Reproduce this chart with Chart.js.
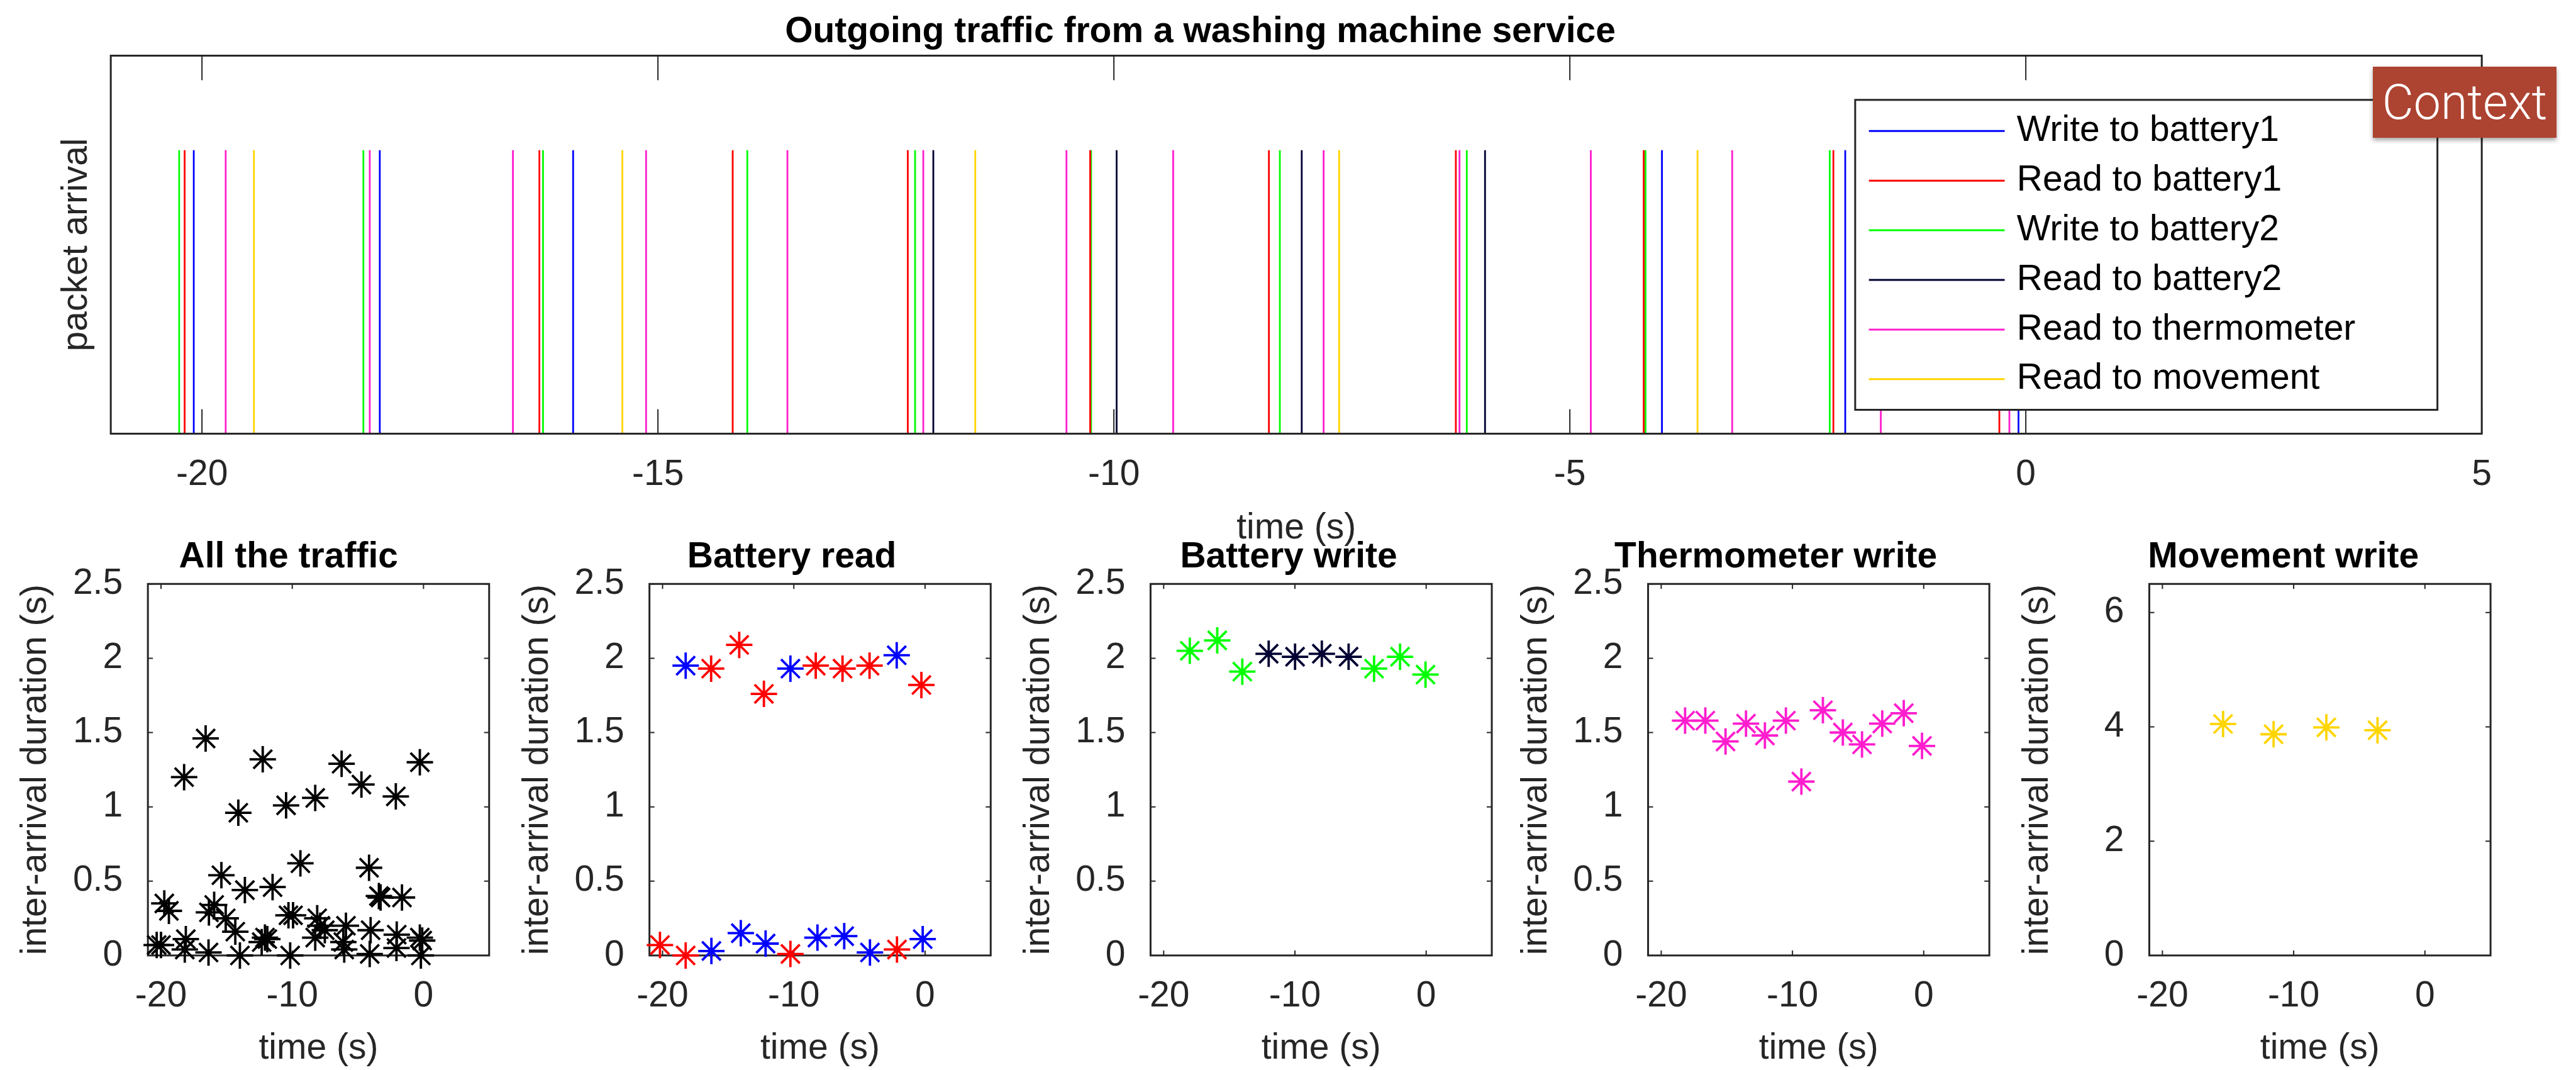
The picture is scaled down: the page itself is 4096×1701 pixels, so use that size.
<!DOCTYPE html>
<html>
<head>
<meta charset="utf-8">
<script src="https://cdn.jsdelivr.net/npm/chart.js@4.4.1/dist/chart.umd.min.js"></script>
<style>
  html, body { margin: 0; padding: 0; background: #fff; }
  body { position: relative; width: 4096px; height: 1701px; overflow: hidden; }
  .wrap { position: absolute; }
  #context {
    position: absolute; left: 3773px; top: 106px; width: 292px; height: 113px;
    background: #ad4331; color: #fff; box-shadow: 0 4px 7px rgba(0,0,0,0.35);
    font-family: Roboto, "Open Sans", "Liberation Sans", sans-serif; font-weight: 300; font-size: 77px;
    display: flex; align-items: center; justify-content: center;
  }
</style>
</head>
<body>
<div class="wrap" id="w0"><canvas id="c0"></canvas></div>
<div class="wrap" id="w1"><canvas id="c1"></canvas></div>
<div class="wrap" id="w2"><canvas id="c2"></canvas></div>
<div class="wrap" id="w3"><canvas id="c3"></canvas></div>
<div class="wrap" id="w4"><canvas id="c4"></canvas></div>
<div class="wrap" id="w5"><canvas id="c5"></canvas></div>
<div id="context">Context</div>
<script>
var S = 0.915;
var FONT = '"Liberation Sans", Arial, Helvetica, sans-serif';
var INK = '#262626';

// ticks
var topTicks = [-20, -15, -10, -5, 0, 5];
var panelTicks = [-20, -10, 0];
var gapTicks = [0, 0.5, 1, 1.5, 2, 2.5];
var moveTicks = [0, 2, 4, 6];

// packet arrivals (s) for the top plot
var eventNames = ['Write to battery1', 'Read to battery1', 'Write to battery2', 'Read to battery2', 'Read to thermometer', 'Read to movement'];
var eventColors = ['#0000ff', '#ff0000', '#00ff00', '#000033', '#ff1dce', '#ffd500'];
var writeBattery1 = [-20.09, -18.05, -15.93, -3.99, -1.98, -0.08];
var readBattery1 = [-20.19, -16.30, -14.18, -12.26, -10.26, -8.30, -6.25, -4.19, -2.11, -0.29];
var writeBattery2 = [-20.25, -18.23, -16.26, -14.02, -12.18, -10.25, -8.18, -6.13, -4.17, -2.15];
var readBattery2 = [-11.98, -9.97, -7.94, -5.93];
var readThermometer = [-19.74, -18.16, -16.59, -15.13, -13.58, -12.09, -10.52, -9.35, -7.70, -6.21, -4.77, -3.22, -1.59, -0.18];
var readMovement = [-19.43, -15.39, -11.52, -7.53, -3.60];
var arrivalMark = 0.75;

// inter-arrival durations (s) for the small plots
var allTime = [-16.60, -18.24, -12.25, -14.11, -10.47, -8.25, -6.24, -4.73, -2.11, -0.28,
               -9.38, -4.15, -15.40, -13.61, -11.50, -19.75, -19.40, -15.95, -16.35, -15.07,
               -14.34, -10.29, -9.94, -8.10, -7.87, -7.52, -8.25, -5.91, -4.03, -3.40,
               -3.27, -1.64, -2.04, -0.28, -0.10, -20.33, -20.00, -18.11, -18.19, -16.38,
               -13.99, -12.08, -12.33, -11.90, -10.16, -6.11, -6.04, -4.10, -2.06, -0.20];
var allGap = [1.46, 1.20, 1.32, 0.96, 1.01, 1.06, 1.29, 1.15, 1.07, 1.30,
              0.62, 0.59, 0.54, 0.44, 0.46, 0.35, 0.30, 0.34, 0.29, 0.25,
              0.16, 0.27, 0.27, 0.25, 0.20, 0.17, 0.12, 0.20, 0.17, 0.40,
              0.39, 0.39, 0.14, 0.12, 0.10, 0.07, 0.07, 0.11, 0.04, 0.02,
              0.00, 0.12, 0.09, 0.11, 0.00, 0.09, 0.04, 0.01, 0.05, 0.00];
var readRedTime = [-20.20, -18.24, -16.30, -14.16, -12.28, -10.26, -8.33, -6.29, -4.23, -2.14, -0.28];
var readRedGap = [0.07, 0.00, 1.93, 2.09, 1.76, 0.01, 1.95, 1.93, 1.95, 0.04, 1.82];
var readBlueTime = [-18.24, -16.28, -14.04, -12.15, -10.26, -8.20, -6.16, -4.20, -2.16, -0.18];
var readBlueGap = [1.95, 0.03, 0.15, 0.08, 1.93, 0.12, 0.13, 0.02, 2.02, 0.11];
var writeGreenTime = [-18.01, -15.92, -14.01, -3.97, -1.99, -0.05];
var writeGreenGap = [2.05, 2.12, 1.91, 1.93, 2.01, 1.89];
var writeNavyTime = [-12.00, -9.99, -7.95, -5.91];
var writeNavyGap = [2.03, 2.01, 2.03, 2.01];
var thermoTime = [-18.18, -16.64, -15.10, -13.54, -12.10, -10.50, -9.32, -7.68, -6.16, -4.70, -3.16, -1.52, -0.13];
var thermoGap = [1.58, 1.58, 1.44, 1.56, 1.48, 1.58, 1.17, 1.65, 1.50, 1.42, 1.56, 1.63, 1.41];
var moveTime = [-15.38, -11.53, -7.51, -3.61];
var moveGap = [4.05, 3.87, 3.99, 3.94];

Chart.defaults.font.family = FONT;
Chart.defaults.font.size = 57;
Chart.defaults.color = INK;
Chart.defaults.animation = false;
Chart.defaults.events = [];
Chart.defaults.plugins.legend.display = false;
Chart.defaults.plugins.tooltip.enabled = false;

function pts(xs, ys) {
  return xs.map(function (x, i) { return {x: x, y: ys[i]}; });
}

function spikes(times) {
  var out = [];
  times.forEach(function (t) {
    out.push({x: t, y: 0}, {x: t, y: arrivalMark}, {x: t, y: null});
  });
  return out;
}

function fixedTicks(vals) {
  return function (scale) {
    scale.ticks = vals.map(function (v) { return {value: v}; });
  };
}

// box frame with inward ticks on all sides, legend and title
function drawFrame(chart, o) {
  var ctx = chart.ctx, a = chart.chartArea, xs = chart.scales.x, ys = chart.scales.y;
  ctx.save();
  ctx.strokeStyle = INK;
  ctx.lineWidth = 2;
  ctx.beginPath();
  xs.ticks.forEach(function (t) {
    var px = xs.getPixelForValue(t.value);
    ctx.moveTo(px, a.bottom); ctx.lineTo(px, a.bottom - o.tickLen);
    ctx.moveTo(px, a.top); ctx.lineTo(px, a.top + o.tickLen);
  });
  if (o.yTicks) {
    ys.ticks.forEach(function (t) {
      var py = ys.getPixelForValue(t.value);
      ctx.moveTo(a.left, py); ctx.lineTo(a.left + o.tickLen, py);
      ctx.moveTo(a.right, py); ctx.lineTo(a.right - o.tickLen, py);
    });
  }
  ctx.stroke();
  ctx.lineWidth = 3;
  ctx.strokeRect(a.left, a.top, a.right - a.left, a.bottom - a.top);
  ctx.restore();
}

function drawLegend(chart, L) {
  var ctx = chart.ctx, a = chart.chartArea;
  var x0 = a.right - L.right - L.width, y0 = a.top + L.top;
  ctx.save();
  ctx.fillStyle = '#fff';
  ctx.fillRect(x0, y0, L.width, L.height);
  ctx.strokeStyle = INK;
  ctx.lineWidth = 3;
  ctx.strokeRect(x0, y0, L.width, L.height);
  ctx.font = '57px ' + FONT;
  ctx.textBaseline = 'middle';
  ctx.textAlign = 'left';
  chart.data.datasets.forEach(function (ds, i) {
    var y = y0 + L.first + i * L.step;
    ctx.strokeStyle = ds.borderColor;
    ctx.beginPath();
    ctx.moveTo(x0 + L.lineFrom, y);
    ctx.lineTo(x0 + L.lineTo, y);
    ctx.stroke();
    ctx.fillStyle = '#000';
    ctx.fillText(ds.label, x0 + L.text, y);
  });
  ctx.restore();
}

function drawTitle(chart, o) {
  var ctx = chart.ctx, a = chart.chartArea;
  ctx.save();
  ctx.font = 'bold 57px ' + FONT;
  ctx.fillStyle = '#000';
  ctx.textAlign = 'center';
  ctx.textBaseline = 'alphabetic';
  ctx.fillText(o.title, (a.left + a.right) / 2 + o.titleDx, a.top - o.titleGap);
  ctx.restore();
}

var matlabAxes = {
  id: 'matlabAxes',
  beforeDatasetsDraw: function (chart, args, o) {
    if (!o.frameOnTop) drawFrame(chart, o);
  },
  afterDatasetsDraw: function (chart, args, o) {
    if (o.frameOnTop) drawFrame(chart, o);
    if (o.legend) drawLegend(chart, o.legend);
    drawTitle(chart, o);
  }
};

// position a wrapper so that the plot area lands on the given frame
function place(n, frame, yW, xH, top, padR) {
  var el = document.getElementById('w' + n);
  var left = Math.round(frame.l - yW);
  var w = Math.round(frame.r + padR - left);
  var h = Math.round(frame.b + xH - top);
  el.style.left = left + 'px';
  el.style.top = top + 'px';
  el.style.width = w + 'px';
  el.style.height = h + 'px';
  return {
    yWidth: frame.l - left,
    xHeight: top + h - frame.b,
    padding: {left: 0, top: frame.t - top, right: left + w - frame.r, bottom: 0}
  };
}

// ---- top plot ----
var topFrame = {l: 192.5 * S, r: 4321 * S, t: 96.7 * S, b: 753.5 * S};
var g0 = place(0, topFrame, 87.7, 184.7, 0, 40);
var eventSets = [writeBattery1, readBattery1, writeBattery2, readBattery2, readThermometer, readMovement];

new Chart(document.getElementById('c0'), {
  type: 'scatter',
  data: {
    datasets: eventSets.map(function (times, i) {
      return {
        label: eventNames[i],
        data: spikes(times),
        showLine: true,
        spanGaps: false,
        borderColor: eventColors[i],
        backgroundColor: eventColors[i],
        borderWidth: 2.8,
        pointRadius: 0
      };
    })
  },
  options: {
    responsive: true,
    maintainAspectRatio: false,
    layout: {padding: g0.padding},
    scales: {
      x: {
        type: 'linear', min: -21, max: 5,
        afterBuildTicks: fixedTicks(topTicks),
        afterFit: function (s) { s.height = g0.xHeight; },
        grid: {display: false, drawTicks: false},
        border: {display: false},
        ticks: {padding: 32, autoSkip: false, maxRotation: 0, callback: function (v) { return String(v); }},
        title: {display: true, text: 'time (s)', padding: 0}
      },
      y: {
        type: 'linear', min: 0, max: 1,
        afterFit: function (s) { s.width = g0.yWidth; },
        grid: {display: false, drawTicks: false},
        border: {display: false},
        ticks: {display: false},
        title: {display: true, text: 'packet arrival', padding: 0}
      }
    },
    plugins: {
      matlabAxes: {
        frameOnTop: true, yTicks: false, tickLen: 39,
        title: 'Outgoing traffic from a washing machine service', titleDx: -152.6, titleGap: 21.7,
        legend: {
          right: 70.5, top: 70.3, width: 925.8, height: 492.7,
          first: 49.5, step: 78.9, lineFrom: 21.8, lineTo: 237.7, text: 256.9
        }
      }
    }
  },
  plugins: [matlabAxes]
});

// ---- small plots ----
var panelLefts = [257, 1128.6, 1999.4, 2864, 3735];
var panelDefs = [
  {title: 'All the traffic', dx: -47.7, yMax: 2.5, yTicks: gapTicks,
   sets: [{x: allTime, y: allGap, c: '#000000'}]},
  {title: 'Battery read', dx: -44.9, yMax: 2.5, yTicks: gapTicks,
   sets: [{x: readRedTime, y: readRedGap, c: eventColors[1]}, {x: readBlueTime, y: readBlueGap, c: eventColors[0]}]},
  {title: 'Battery write', dx: -51.7, yMax: 2.5, yTicks: gapTicks,
   sets: [{x: writeGreenTime, y: writeGreenGap, c: eventColors[2]}, {x: writeNavyTime, y: writeNavyGap, c: eventColors[3]}]},
  {title: 'Thermometer write', dx: -68.2, yMax: 2.5, yTicks: gapTicks,
   sets: [{x: thermoTime, y: thermoGap, c: eventColors[4]}]},
  {title: 'Movement write', dx: -58.1, yMax: 6.5, yTicks: moveTicks,
   sets: [{x: moveTime, y: moveGap, c: eventColors[5]}]}
];

panelDefs.forEach(function (p, i) {
  var frame = {l: panelLefts[i] * S, r: (panelLefts[i] + 593) * S, t: 1014.5 * S, b: 1660 * S};
  var g = place(i + 1, frame, 211.7, 182.1, 798, 40);
  new Chart(document.getElementById('c' + (i + 1)), {
    type: 'scatter',
    data: {
      datasets: p.sets.map(function (s) {
        return {
          data: pts(s.x, s.y),
          pointStyle: 'star',
          pointRadius: 21,
          pointBorderWidth: 3.8,
          borderColor: s.c,
          backgroundColor: s.c,
          clip: false
        };
      })
    },
    options: {
      responsive: true,
      maintainAspectRatio: false,
      layout: {padding: g.padding},
      scales: {
        x: {
          type: 'linear', min: -21, max: 5,
          afterBuildTicks: fixedTicks(panelTicks),
          afterFit: function (s) { s.height = g.xHeight; },
          grid: {display: false, drawTicks: false},
          border: {display: false},
          ticks: {padding: 31, autoSkip: false, maxRotation: 0, callback: function (v) { return String(v); }},
          title: {display: true, text: 'time (s)', padding: 0}
        },
        y: {
          type: 'linear', min: 0, max: p.yMax,
          afterBuildTicks: fixedTicks(p.yTicks),
          afterFit: function (s) { s.width = g.yWidth; },
          grid: {display: false, drawTicks: false},
          border: {display: false},
          ticks: {padding: 40, autoSkip: false, callback: function (v) { return String(v); }},
          title: {display: true, text: 'inter-arrival duration (s)', padding: 0}
        }
      },
      plugins: {
        matlabAxes: {frameOnTop: false, yTicks: true, tickLen: 8, title: p.title, titleDx: p.dx, titleGap: 26}
      }
    },
    plugins: [matlabAxes]
  });
});
</script>
</body>
</html>
